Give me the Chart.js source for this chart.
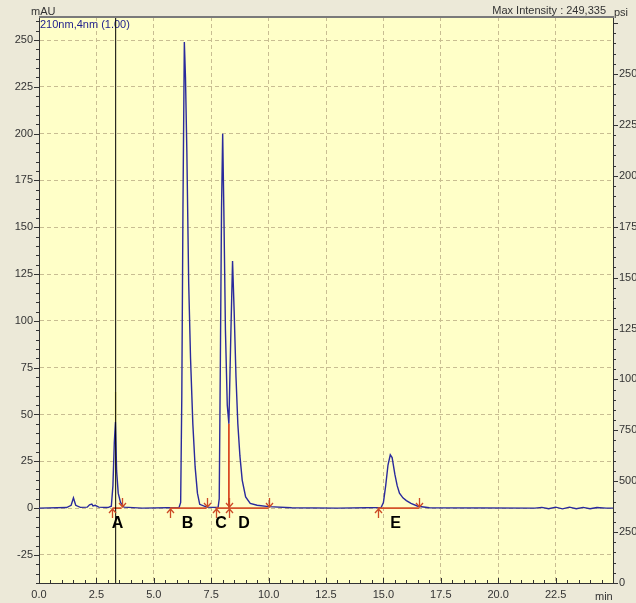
<!DOCTYPE html>
<html><head><meta charset="utf-8">
<script src="https://cdn.jsdelivr.net/npm/chart.js@4/dist/chart.umd.min.js"></script>
<style>
html,body{margin:0;padding:0;overflow:hidden;background:#ece9d8;width:636px;height:603px;}
#wrap{position:absolute;left:0;top:0;width:660px;height:603px;}
canvas{display:block;}
</style></head><body>
<div id="wrap"><canvas id="c" width="660" height="603"></canvas></div>
<script>
// ---- data ----
const times = [0,1.2,1.4,1.5,1.6,1.8,2.1,2.2,2.3,2.35,2.45,2.6,3.0,3.15,3.22,3.28,3.33,3.38,3.45,3.55,3.7,4.5,
  6.1,6.17,6.22,6.27,6.33,6.38,6.44,6.52,6.6,6.7,6.8,6.9,7.0,7.3,
  7.8,7.85,7.9,7.95,8.0,8.05,8.12,8.2,8.27,8.35,8.43,8.5,8.58,8.66,8.75,8.85,9.0,9.2,9.5,10.0,11,13,
  14.9,15.0,15.1,15.2,15.3,15.38,15.5,15.6,15.7,15.85,16.0,16.2,16.5,17,
  21.6,21.9,22.2,22.5,22.8,23.1,23.4,23.7,24.0,24.3,24.7,25];
const mAU = [0,0.3,1.5,5.5,1.5,0.4,0.5,1.8,2.2,1.2,1.5,0.5,0.3,1,12,35,46,20,8,3,0.5,0,
  0.3,3,60,160,249,230,190,120,80,45,22,8,2,0.5,
  0.3,5,80,160,200,160,95,55,45,90,132,105,70,45,28,15,6,2.5,1.5,0.8,0.2,0,
  0.3,3,12,23,28.5,27,18,12,8,5.5,4,2.5,1,0.2,
  0,0.4,-0.3,0.5,-0.4,0.5,-0.3,0.4,-0.3,0.3,0,0];

const peakNames  = ['A','B','C','D','E'];
const labelTimes = [3.42, 6.47, 7.93, 8.93, 15.53];
const peakStarts = [3.2, 5.7, 7.7, 8.27, 14.75];
const peakEnds   = [3.6, 7.3, 8.27, 10.0, 16.55];
const dropTime = 8.27, dropValue = 45;
const apexA = [46, 62];
const markerTime = 3.34;

const xTicks = [0,2.5,5,7.5,10,12.5,15,17.5,20,22.5];
const xTickLabels = ['0.0','2.5','5.0','7.5','10.0','12.5','15.0','17.5','20.0','22.5'];
const yTicks = [-25,0,25,50,75,100,125,150,175,200,225,250];
const yTickLabels = ['-25','0','25','50','75','100','125','150','175','200','225','250'];
const psiTicks = [0,250,500,750,1000,1250,1500,1750,2000,2250,2500];
const psiTickLabels = ['0','250','500','750','1000','1250','1500','1750','2000','2250','2500'];

const X_MIN = 0, X_MAX = 25, Y_MIN = -40, Y_MAX = 262.3, P_MIN = 0, P_MAX = 2780;

Chart.defaults.font.family = '"Liberation Sans", Arial, sans-serif';
Chart.defaults.font.size = 11;
Chart.defaults.color = '#333';

const baselineData = [];
peakStarts.forEach((s, i) => {
  baselineData.push({x: s, y: 0}, {x: peakEnds[i], y: 0}, {x: peakEnds[i], y: null});
});

const setTicks = vals => scale => { scale.ticks = vals.map(v => ({value: v})); };

const decor = {
  id: 'decor',
  beforeDraw(chart) {
    const {ctx, chartArea: a} = chart;
    ctx.save();
    ctx.fillStyle = '#ffffc8';
    ctx.fillRect(a.left, a.top, a.right - a.left, a.bottom - a.top);
    ctx.restore();
  },
  beforeDatasetsDraw(chart) {
    const {ctx, chartArea: a} = chart;
    ctx.save();
    ctx.font = '11px "Liberation Sans", Arial, sans-serif';
    ctx.fillStyle = '#1c1c8c';
    ctx.textBaseline = 'alphabetic';
    ctx.textAlign = 'left';
    ctx.fillText('210nm,4nm (1.00)', a.left + 1, a.top + 10.5);
    ctx.restore();
  },
  afterDraw(chart) {
    const {ctx, chartArea: a, scales} = chart;
    const xs = scales.x, ys = scales.y, ps = scales.y2;
    ctx.save();
    // top frame
    ctx.strokeStyle = '#7a7a7a';
    ctx.lineWidth = 2;
    ctx.beginPath(); ctx.moveTo(a.left, a.top); ctx.lineTo(a.right + 1, a.top); ctx.stroke();
    // axis ticks
    ctx.strokeStyle = '#333';
    ctx.lineWidth = 1;
    ctx.beginPath();
    for (let v = -40; v <= 262; v += 5) {
      const y = Math.round(ys.getPixelForValue(v)) + 0.5;
      const len = (v % 25 === 0) ? 5 : 3;
      ctx.moveTo(a.left - len, y); ctx.lineTo(a.left, y);
    }
    for (let v = 0; v <= P_MAX; v += 50) {
      const y = Math.round(ps.getPixelForValue(v)) + 0.5;
      const len = (v % 250 === 0) ? 5 : 3;
      ctx.moveTo(a.right, y); ctx.lineTo(a.right + len, y);
    }
    for (let k = 1; k < 50; k++) {
      const v = k * 0.5;
      const x = Math.round(xs.getPixelForValue(v)) + 0.5;
      const len = (k % 5 === 0) ? 5 : 3;
      ctx.moveTo(x, a.bottom); ctx.lineTo(x, a.bottom - len);
    }
    ctx.stroke();
    // integration arrows
    const y0 = Math.round(ys.getPixelForValue(0));
    ctx.strokeStyle = '#cc4a26';
    ctx.lineWidth = 1.3;
    ctx.beginPath();
    peakStarts.forEach(t => {
      const x = Math.round(xs.getPixelForValue(t)) + 0.5;
      ctx.moveTo(x, y0 + 10); ctx.lineTo(x, y0 + 1);
      ctx.moveTo(x - 3.5, y0 + 5); ctx.lineTo(x, y0 + 1); ctx.lineTo(x + 3.5, y0 + 5);
    });
    peakEnds.forEach(t => {
      const x = Math.round(xs.getPixelForValue(t)) + 0.5;
      ctx.moveTo(x, y0 - 10); ctx.lineTo(x, y0 - 1);
      ctx.moveTo(x - 3.5, y0 - 5); ctx.lineTo(x, y0 - 1); ctx.lineTo(x + 3.5, y0 - 5);
    });
    ctx.stroke();
    // peak labels
    ctx.fillStyle = '#000';
    ctx.font = 'bold 16px "Liberation Sans", Arial, sans-serif';
    ctx.textAlign = 'center';
    ctx.textBaseline = 'middle';
    peakNames.forEach((n, i) => {
      ctx.fillText(n, xs.getPixelForValue(labelTimes[i]), y0 + 16);
    });
    // header texts
    ctx.font = '11px "Liberation Sans", Arial, sans-serif';
    ctx.fillStyle = '#333';
    ctx.textBaseline = 'alphabetic';
    ctx.textAlign = 'left';
    ctx.fillText('mAU', 31, 15);
    ctx.fillText('psi', a.right + 1, 16);
    ctx.fillText('min', a.right - 18, a.bottom + 17);
    ctx.textAlign = 'right';
    ctx.fillText('Max Intensity : 249,335', a.right - 7, 14);
    ctx.restore();
  }
};

new Chart(document.getElementById('c'), {
  type: 'line',
  data: {
    datasets: [
      {label: 'marker', data: [{x: markerTime, y: Y_MIN}, {x: markerTime, y: Y_MAX}],
       borderColor: '#000', borderWidth: 1, pointRadius: 0, order: 0},
      {label: 'drop', data: [{x: dropTime, y: 0}, {x: dropTime, y: dropValue}],
       borderColor: '#d94a22', borderWidth: 1.8, pointRadius: 0, order: 1},
      {label: 'apexA', data: [{x: 3.335, y: apexA[0]}, {x: 3.335, y: apexA[1]}],
       borderColor: '#e6dc6a', borderWidth: 1.5, pointRadius: 0, order: 2},
      {label: 'baselines', data: baselineData, borderColor: '#d4522a', borderWidth: 1.6,
       pointRadius: 0, spanGaps: false, order: 3},
      {label: 'signal', data: times.map((t, i) => ({x: t, y: mAU[i]})),
       borderColor: '#2a2a9c', borderWidth: 1.4, pointRadius: 0, tension: 0, order: 4}
    ]
  },
  options: {
    responsive: false,
    animation: false,
    events: [],
    layout: {padding: {top: 17, left: 0, right: 0, bottom: 0}},
    plugins: {legend: {display: false}, tooltip: {enabled: false}},
    scales: {
      x: {
        type: 'linear', position: 'bottom', min: X_MIN, max: X_MAX,
        afterBuildTicks: setTicks(xTicks),
        afterFit: s => { s.height = 20; },
        ticks: {callback: (v, i) => xTickLabels[i], padding: 5, maxRotation: 0, autoSkip: false, color: '#333'},
        grid: {color: c => (c.tick && c.tick.value === 0) ? 'rgba(0,0,0,0)' : '#c8bd92', drawTicks: false},
        border: {color: '#333', width: 1, dash: [4, 3]}
      },
      y: {
        type: 'linear', position: 'left', min: Y_MIN, max: Y_MAX,
        afterBuildTicks: setTicks(yTicks),
        afterFit: s => { s.width = 39; },
        ticks: {callback: (v, i) => yTickLabels[i], padding: 6, autoSkip: false, color: '#333'},
        grid: {color: '#c8bd92', drawTicks: false},
        border: {color: '#333', width: 1, dash: [4, 3]}
      },
      y2: {
        type: 'linear', position: 'right', min: P_MIN, max: P_MAX,
        afterBuildTicks: setTicks(psiTicks),
        afterFit: s => { s.width = 47; },
        ticks: {callback: (v, i) => psiTickLabels[i], padding: 6, autoSkip: false, color: '#333'},
        grid: {drawOnChartArea: false, drawTicks: false},
        border: {color: '#333', width: 1}
      }
    }
  },
  plugins: [decor]
});
</script>
</body></html>
